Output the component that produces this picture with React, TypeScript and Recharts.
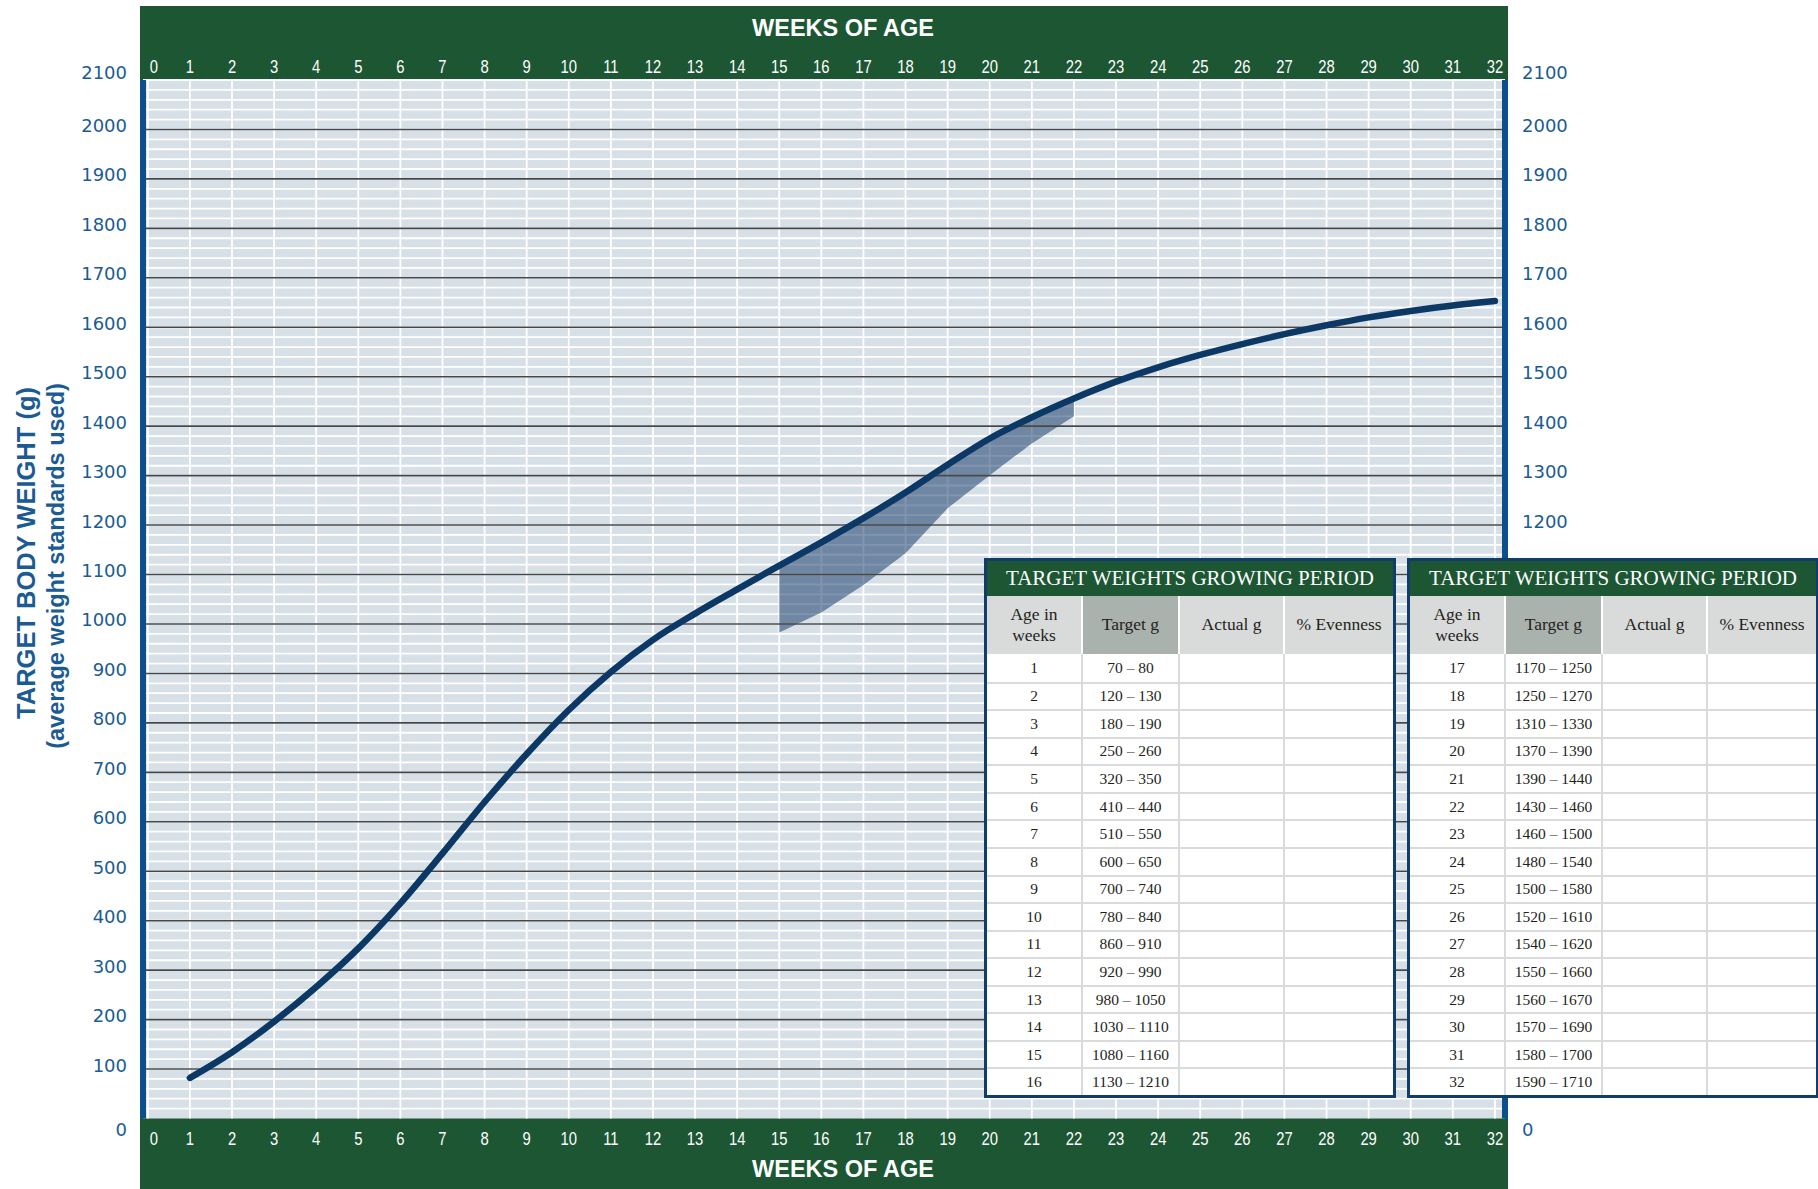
import React from "react";
import { Area, CartesianGrid, ComposedChart, Line, ReferenceLine, XAxis, YAxis } from "recharts";

// curve, grams per week of age
const weeks = [1, 2, 3, 4, 5, 6, 7, 8, 9, 10, 11, 12, 13, 14, 15, 16, 17, 18, 19, 20, 21, 22, 23, 24, 25, 26, 27, 28, 29, 30, 31, 32];
const targetWeight = [82, 134, 196, 266, 344, 435, 536, 640, 737, 826, 903, 968, 1021, 1070, 1118, 1165, 1214, 1266, 1322, 1375, 1418, 1456, 1490, 1519, 1544, 1566, 1586, 1604, 1620, 1633, 1644, 1653];

// shaded band under the curve (lower edge)
const bandWeeks = [15, 16, 17, 18, 19, 20, 21, 22];
const bandLow = [983, 1023, 1079, 1143, 1234, 1301, 1365, 1420];

const weekTicks = [0, 1, 2, 3, 4, 5, 6, 7, 8, 9, 10, 11, 12, 13, 14, 15, 16, 17, 18, 19, 20, 21, 22, 23, 24, 25, 26, 27, 28, 29, 30, 31, 32];
const weightTicks = [0, 100, 200, 300, 400, 500, 600, 700, 800, 900, 1000, 1100, 1200, 1300, 1400, 1500, 1600, 1700, 1800, 1900, 2000, 2100];
// right-hand labels 100–1100 sit behind the tables in the original
const rightTicks = [0, 1200, 1300, 1400, 1500, 1600, 1700, 1800, 1900, 2000, 2100];
const majorLines = weightTicks.filter((v) => v > 0 && v < 2100);
const minorLines = Array.from({ length: 105 }, (_, i) => (i + 1) * 20);

// table contents
const targetLow = [70, 120, 180, 250, 320, 410, 510, 600, 700, 780, 860, 920, 980, 1030, 1080, 1130, 1170, 1250, 1310, 1370, 1390, 1430, 1460, 1480, 1500, 1520, 1540, 1550, 1560, 1570, 1580, 1590];
const targetHigh = [80, 130, 190, 260, 350, 440, 550, 650, 740, 840, 910, 990, 1050, 1110, 1160, 1210, 1250, 1270, 1330, 1390, 1440, 1460, 1500, 1540, 1580, 1610, 1620, 1660, 1670, 1690, 1700, 1710];
const tableTitle = "TARGET WEIGHTS GROWING PERIOD";
const tableHeads = ["Age in weeks", "Target g", "Actual g", "% Evenness"];

const GREEN = "#1c5633";
const AXIS_BLUE = "#1b5b94";
const BAR_BLUE = "#0c4f8b";
const NAVY = "#0b3864";
const SANS = '"Liberation Sans", Arial, sans-serif';
const SERIF = '"Liberation Serif", "Times New Roman", serif';

const data = weeks.map((w, i) => {
  const b = bandWeeks.indexOf(w);
  return { week: w, weight: targetWeight[i], band: b >= 0 ? [bandLow[b], targetWeight[i]] : undefined };
});

function WeekTick(props: any) {
  const { x, y, payload, top } = props;
  const shift = payload.value === 0 ? 6 : 0;
  const dy = top ? -6.7 : 26.5;
  return (
    <text
      transform={`translate(${x + shift},${y + dy}) scale(0.8,1)`}
      textAnchor="middle"
      fill="#fff"
      fontSize={18.5}
      fontFamily={SANS}
    >
      {payload.value}
    </text>
  );
}

function WeightTick(props: any) {
  const { x, y, payload, textAnchor } = props;
  let dy = 2.5;
  if (payload.value === 0) dy = 17;
  if (payload.value === 2100) dy = -1;
  return (
    <text
      x={x}
      y={y}
      dy={dy}
      textAnchor={textAnchor}
      fill={AXIS_BLUE}
      fontSize={18}
      fontFamily='"DejaVu Sans", sans-serif'
    >
      {payload.value}
    </text>
  );
}

function WeightTitle() {
  return (
    <g fill={AXIS_BLUE} fontFamily={SANS} fontWeight="bold">
      <text transform="translate(35,553) rotate(-90)" textAnchor="middle" fontSize={25.5}>
        TARGET BODY WEIGHT (g)
      </text>
      <text transform="translate(64,566) rotate(-90)" textAnchor="middle" fontSize={23.5}>
        (average weight standards used)
      </text>
    </g>
  );
}

const titleStyle: React.CSSProperties = {
  position: "absolute",
  left: 643,
  width: 400,
  height: 24,
  lineHeight: "24px",
  textAlign: "center",
  color: "#fff",
  fontFamily: SANS,
  fontWeight: "bold",
  fontSize: 23.5,
  whiteSpace: "nowrap",
};

const COL_W = [94, 97, 105, 110];
const HEAD_BG = ["#d9dbda", "#aab2ad", "#d9dbda", "#d9dbda"];
const ROW_H = 441 / 16;

function TargetTable({ left, from }: { left: number; from: number }) {
  const rows = weeks.slice(from, from + 16);
  return (
    <div
      style={{
        position: "absolute",
        left,
        top: 558,
        width: 406,
        border: `3px solid #103d69`,
        background: "#fff",
        fontFamily: SERIF,
        color: "#231f20",
      }}
    >
      <div
        style={{
          height: 35,
          background: GREEN,
          color: "#fff",
          fontSize: 21,
          display: "flex",
          alignItems: "center",
          justifyContent: "center",
          whiteSpace: "nowrap",
        }}
      >
        {tableTitle}
      </div>
      <div style={{ display: "flex", height: 58 }}>
        {tableHeads.map((h, i) => (
          <div
            key={h}
            style={{
              boxSizing: "border-box",
              width: COL_W[i],
              background: HEAD_BG[i],
              borderLeft: i > 0 ? "2px solid #fff" : "none",
              display: "flex",
              alignItems: "center",
              justifyContent: "center",
              textAlign: "center",
              fontSize: 17.5,
              lineHeight: "21.5px",
              padding: "0 4px",
            }}
          >
            {i === 0 ? (
              <span>
                Age in
                <br />
                weeks
              </span>
            ) : (
              h
            )}
          </div>
        ))}
      </div>
      {rows.map((w, r) => (
        <div key={w} style={{ display: "flex", height: ROW_H }}>
          {[String(w), `${targetLow[from + r]} – ${targetHigh[from + r]}`, "", ""].map((t, i) => (
            <div
              key={i}
              style={{
                boxSizing: "border-box",
                width: COL_W[i],
                borderLeft: i > 0 ? "2px solid #d9dadc" : "none",
                borderTop: r > 0 ? "2px solid #d9dadc" : "none",
                display: "flex",
                alignItems: "center",
                justifyContent: "center",
                fontSize: 15.5,
              }}
            >
              {t}
            </div>
          ))}
        </div>
      ))}
    </div>
  );
}

export default function App() {
  return (
    <div
      style={{
        position: "absolute",
        left: 0,
        top: 0,
        width: 1818,
        height: 1189,
        overflow: "hidden",
        background: "#fff",
      }}
    >
      <div style={{ position: "absolute", left: 140, top: 6, width: 1368, height: 74, background: GREEN }} />
      <div style={{ position: "absolute", left: 140, top: 1118, width: 1368, height: 71, background: GREEN }} />
      <div style={{ position: "absolute", left: 0, top: 0 }}>
        <ComposedChart width={1818} height={1189} data={data} margin={{ top: 0, right: 0, bottom: 0, left: 0 }}>
          <CartesianGrid
            fill="#d7dfe7"
            stroke="#fff"
            strokeWidth={1.8}
            horizontalValues={minorLines}
            verticalValues={weekTicks}
          />
          {majorLines.map((v) => (
            <ReferenceLine key={v} y={v} stroke="#474747" strokeWidth={1.6} />
          ))}
          <XAxis
            dataKey="week"
            type="number"
            domain={[-0.114, 32.24]}
            ticks={weekTicks}
            interval={0}
            height={70.5}
            axisLine={false}
            tickLine={false}
            tickSize={0}
            tickMargin={0}
            tick={(p: any) => <WeekTick {...p} top={false} />}
          />
          <XAxis
            xAxisId="top"
            orientation="top"
            dataKey="week"
            type="number"
            domain={[-0.114, 32.24]}
            ticks={weekTicks}
            interval={0}
            height={80}
            axisLine={false}
            tickLine={false}
            tickSize={0}
            tickMargin={0}
            tick={(p: any) => <WeekTick {...p} top />}
          />
          <YAxis
            type="number"
            domain={[0, 2100]}
            ticks={weightTicks}
            interval={0}
            width={143}
            axisLine={{ stroke: BAR_BLUE, strokeWidth: 6 }}
            tickLine={false}
            tickSize={0}
            tickMargin={16}
            tick={(p: any) => <WeightTick {...p} />}
            label={<WeightTitle />}
          />
          <YAxis
            yAxisId="right"
            orientation="right"
            type="number"
            domain={[0, 2100]}
            ticks={rightTicks}
            interval={0}
            width={313}
            axisLine={{ stroke: BAR_BLUE, strokeWidth: 6 }}
            tickLine={false}
            tickSize={0}
            tickMargin={17}
            tick={(p: any) => <WeightTick {...p} />}
          />
          <Area
            yAxisId="right"
            type="linear"
            dataKey="band"
            stroke="none"
            fill="#1b3e6b"
            fillOpacity={0.55}
            isAnimationActive={false}
          />
          <Line
            type="monotone"
            dataKey="weight"
            stroke={NAVY}
            strokeWidth={6.5}
            strokeLinecap="round"
            dot={false}
            activeDot={false}
            isAnimationActive={false}
          />
        </ComposedChart>
      </div>
      <div style={{ ...titleStyle, top: 16 }}>WEEKS OF AGE</div>
      <div style={{ ...titleStyle, top: 1157 }}>WEEKS OF AGE</div>
      <TargetTable left={984} from={0} />
      <TargetTable left={1407} from={16} />
    </div>
  );
}
